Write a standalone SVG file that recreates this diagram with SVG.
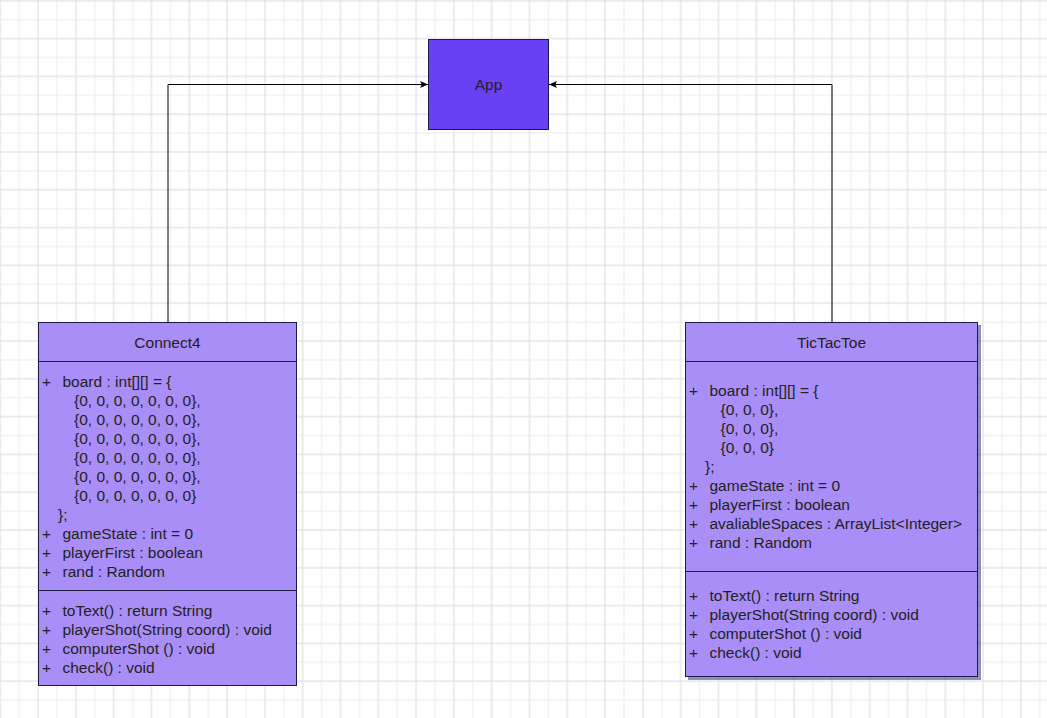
<svg xmlns="http://www.w3.org/2000/svg" width="1047" height="718" viewBox="0 0 1047 718">
  <defs>
    <!-- background grid: major line every second minor step -->
    <pattern id="grid" patternUnits="userSpaceOnUse" x="0.3" y="0.8" width="37.8" height="37.8">
      <rect x="-0.5" y="0" width="1" height="37.8" fill="#d9d9d9"/>
      <rect x="0" y="-0.5" width="37.8" height="1" fill="#d9d9d9"/>
      <rect x="18.4" y="0" width="1" height="37.8" fill="#ececec"/>
      <rect x="0" y="18.4" width="37.8" height="1" fill="#ececec"/>
      <rect x="37.3" y="0" width="1" height="37.8" fill="#d9d9d9"/>
      <rect x="0" y="37.3" width="37.8" height="1" fill="#d9d9d9"/>
    </pattern>
    <marker id="arrow" viewBox="0 0 8 8" refX="8" refY="4" markerWidth="8" markerHeight="8" markerUnits="userSpaceOnUse" orient="auto">
      <path d="M0,0.5 L8,4 L0,7.5 L1.8,4 Z" fill="#000"/>
    </marker>
    <filter id="shadow" x="-5%" y="-5%" width="115%" height="115%">
      <feOffset dx="2.5" dy="2.5" in="SourceAlpha" result="off"/>
      <feFlood flood-color="#3a3470" flood-opacity="0.55"/>
      <feComposite in2="off" operator="in" result="sh"/>
      <feMerge><feMergeNode in="sh"/><feMergeNode in="SourceGraphic"/></feMerge>
    </filter>
  </defs>
  <style>
    .txt { font-family: "Liberation Sans", Arial, sans-serif; font-size: 15.5px; fill: #222; }
    .mid { text-anchor: middle; }
    .cls { fill: #a98ef7; stroke: #1b1a48; stroke-width: 1; }
    .app { fill: #6a40f5; stroke: #1b1a48; stroke-width: 1; }
    .div { stroke: #1b1a48; stroke-width: 1; }
    .edge { fill: none; stroke: #000; stroke-width: 1; marker-end: url(#arrow); }
  </style>

  <rect width="1047" height="718" fill="#ffffff"/>
  <rect width="1047" height="718" fill="url(#grid)"/>

  <g id="connectors">
    <path class="edge" d="M168,322 V84.5 H428"/>
    <path class="edge" d="M832,322 V84.5 H549"/>
  </g>

  <g id="app">
    <rect class="app" x="428.5" y="39.5" width="120" height="90"/>
    <text class="txt mid" x="488.5" y="90">App</text>
  </g>

  <g id="connect4">
    <rect class="cls" x="38.5" y="322.5" width="258" height="363"/>
    <line class="div" x1="38.5" y1="361.5" x2="296.5" y2="361.5"/>
    <line class="div" x1="38.5" y1="590.5" x2="296.5" y2="590.5"/>
    <text class="txt mid" x="167.5" y="348">Connect4</text>
    <g class="txt">
      <text x="42" y="387">+</text><text x="62.5" y="387">board : int[][] = {</text>
      <text x="74" y="406">{0, 0, 0, 0, 0, 0, 0},</text>
      <text x="74" y="425">{0, 0, 0, 0, 0, 0, 0},</text>
      <text x="74" y="444">{0, 0, 0, 0, 0, 0, 0},</text>
      <text x="74" y="463">{0, 0, 0, 0, 0, 0, 0},</text>
      <text x="74" y="482">{0, 0, 0, 0, 0, 0, 0},</text>
      <text x="74" y="501">{0, 0, 0, 0, 0, 0, 0}</text>
      <text x="58" y="520">};</text>
      <text x="42" y="539">+</text><text x="62.5" y="539">gameState : int = 0</text>
      <text x="42" y="558">+</text><text x="62.5" y="558">playerFirst : boolean</text>
      <text x="42" y="577">+</text><text x="62.5" y="577">rand : Random</text>
      <text x="42" y="616">+</text><text x="62.5" y="616">toText() : return String</text>
      <text x="42" y="635">+</text><text x="62.5" y="635">playerShot(String coord) : void</text>
      <text x="42" y="654">+</text><text x="62.5" y="654">computerShot () : void</text>
      <text x="42" y="673">+</text><text x="62.5" y="673">check() : void</text>
    </g>
  </g>

  <g id="tictactoe">
    <rect class="cls" x="685.5" y="322.5" width="292" height="354" filter="url(#shadow)"/>
    <line class="div" x1="685.5" y1="361.5" x2="977.5" y2="361.5"/>
    <line class="div" x1="685.5" y1="571.5" x2="977.5" y2="571.5"/>
    <text class="txt mid" x="831.5" y="348">TicTacToe</text>
    <g class="txt">
      <text x="689" y="396">+</text><text x="709.5" y="396">board : int[][] = {</text>
      <text x="720.5" y="415">{0, 0, 0},</text>
      <text x="720.5" y="434">{0, 0, 0},</text>
      <text x="720.5" y="453">{0, 0, 0}</text>
      <text x="705" y="472">};</text>
      <text x="689" y="491">+</text><text x="709.5" y="491">gameState : int = 0</text>
      <text x="689" y="510">+</text><text x="709.5" y="510">playerFirst : boolean</text>
      <text x="689" y="529">+</text><text x="709.5" y="529">avaliableSpaces : ArrayList&lt;Integer&gt;</text>
      <text x="689" y="548">+</text><text x="709.5" y="548">rand : Random</text>
      <text x="689" y="600.5">+</text><text x="709.5" y="600.5">toText() : return String</text>
      <text x="689" y="619.5">+</text><text x="709.5" y="619.5">playerShot(String coord) : void</text>
      <text x="689" y="638.5">+</text><text x="709.5" y="638.5">computerShot () : void</text>
      <text x="689" y="657.5">+</text><text x="709.5" y="657.5">check() : void</text>
    </g>
  </g>
</svg>
